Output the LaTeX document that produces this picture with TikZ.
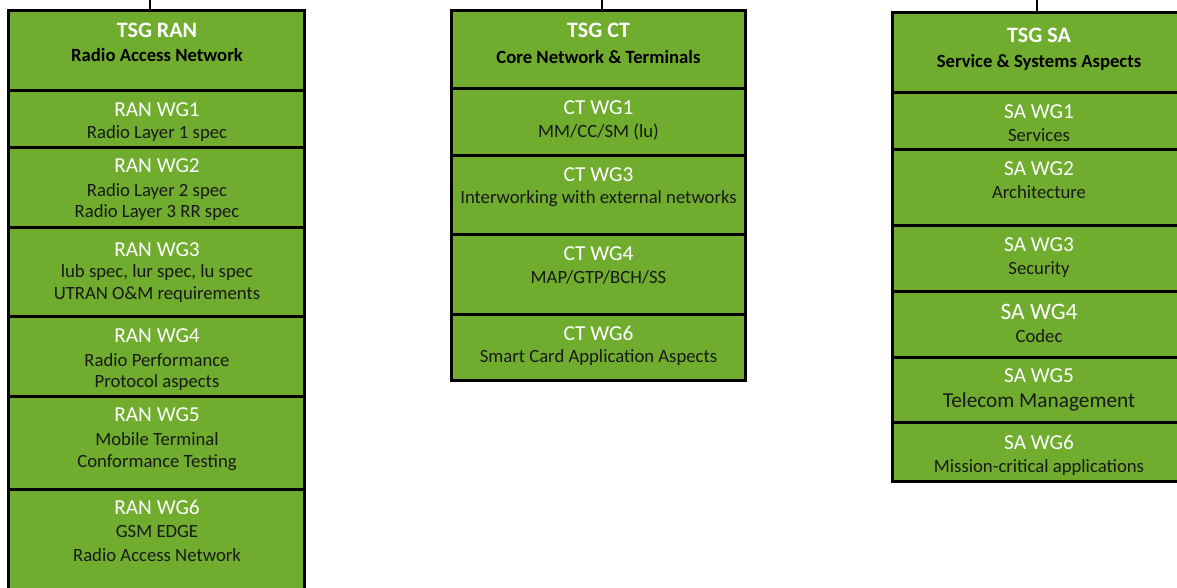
\documentclass[tikz,border=0pt]{standalone}
\usepackage{fontspec}
\setmainfont{Carlito}
\definecolor{cellgreen}{RGB}{112,173,47}
\begin{document}
\begin{tikzpicture}[x=1pt,y=-1pt,
  cell/.style={draw=black,fill=cellgreen,line width=3pt,rectangle,inner sep=0pt},
  txt/.style={anchor=base,inner sep=0pt,yshift=-1pt},
  hdr/.style={txt,text=white,font=\fontsize{22}{26}\selectfont\bfseries},
  sub/.style={txt,text=black,font=\fontsize{18.7}{22}\selectfont\bfseries},
  wgt/.style={txt,text=white,font=\fontsize{21.3}{25}\selectfont},
  body/.style={txt,text=black!90,font=\fontsize{18.7}{22}\selectfont},
  link/.style={draw=black,line width=2pt}]
\useasboundingbox (0,0) rectangle (1177,587);
% ---------------- RAN column
\begin{scope}
\clip (0,0) rectangle (1177,587);
\node[cell,minimum width=296.2pt,minimum height=79.5pt] (ranH) at (156.4,50.25) {};
\node[cell,minimum width=296.2pt,minimum height=57pt] (ran1) at (156.4,118.5) {};
\node[cell,minimum width=296.2pt,minimum height=80pt] (ran2) at (156.4,187) {};
\node[cell,minimum width=296.2pt,minimum height=89pt] (ran3) at (156.4,271.5) {};
\node[cell,minimum width=296.2pt,minimum height=80pt] (ran4) at (156.4,356) {};
\node[cell,minimum width=296.2pt,minimum height=93pt] (ran5) at (156.4,442.5) {};
\node[cell,minimum width=296.2pt,minimum height=120pt] (ran6) at (156.4,549.5) {};
\end{scope}
\node[hdr] (ranHa) at (157,36.7) {TSG RAN};
\node[sub] (ranHb) at (157,60.7) {Radio Access Network};
\node[wgt] (ran1a) at (157,115) {RAN WG1};
\node[body] (ran1b) at (157,137.7) {Radio Layer 1 spec};
\node[wgt] (ran2a) at (157,171.7) {RAN WG2};
\node[body] (ran2b) at (157,195) {Radio Layer 2 spec};
\node[body] (ran2c) at (157,216.7) {Radio Layer 3 RR spec};
\node[wgt] (ran3a) at (157,255) {RAN WG3};
\node[body] (ran3b) at (157,276) {lub spec, lur spec, lu spec};
\node[body] (ran3c) at (157,298) {UTRAN O\&M requirements};
\node[wgt] (ran4a) at (157,341) {RAN WG4};
\node[body] (ran4b) at (157,365) {Radio Performance};
\node[body] (ran4c) at (157,386.7) {Protocol aspects};
\node[wgt] (ran5a) at (157,420.7) {RAN WG5};
\node[body] (ran5b) at (157,444) {Mobile Terminal};
\node[body] (ran5c) at (157,466.7) {Conformance Testing};
\node[wgt] (ran6a) at (157,513.3) {RAN WG6};
\node[body] (ran6b) at (157,536.7) {GSM EDGE};
\node[body] (ran6c) at (157,560) {Radio Access Network};
% ---------------- CT column
\node[cell,minimum width=294pt,minimum height=78.5pt] (ctH) at (598.3,49.55) {};
\node[cell,minimum width=294pt,minimum height=66.7pt] (ct1) at (598.3,122.15) {};
\node[cell,minimum width=294pt,minimum height=79pt] (ct3) at (598.3,195) {};
\node[cell,minimum width=294pt,minimum height=80pt] (ct4) at (598.3,274.5) {};
\node[cell,minimum width=294pt,minimum height=65.8pt] (ct6) at (598.3,347.4) {};
\node[hdr] (ctHa) at (598.5,36.7) {TSG CT};
\node[sub] (ctHb) at (598.5,62.7) {Core Network \& Terminals};
\node[wgt] (ct1a) at (598.5,113.3) {CT WG1};
\node[body] (ct1b) at (598.5,136.7) {MM/CC/SM (lu)};
\node[wgt] (ct3a) at (598.5,180) {CT WG3};
\node[body] (ct3b) at (598.5,202.7) {Interworking with external networks};
\node[wgt] (ct4a) at (598.5,259.3) {CT WG4};
\node[body] (ct4b) at (598.5,282.7) {MAP/GTP/BCH/SS};
\node[wgt] (ct6a) at (598.5,339.3) {CT WG6};
\node[body] (ct6b) at (598.5,361.7) {Smart Card Application Aspects};
% ---------------- SA column
\begin{scope}
\clip (0,0) rectangle (1177,587);
\node[cell,minimum width=296pt,minimum height=79.5pt] (saH) at (1040,52.55) {};
\node[cell,minimum width=296pt,minimum height=56.7pt] (sa1) at (1040,120.65) {};
\node[cell,minimum width=296pt,minimum height=76.7pt] (sa2) at (1040,187.35) {};
\node[cell,minimum width=296pt,minimum height=65.6pt] (sa3) at (1040,258.5) {};
\node[cell,minimum width=296pt,minimum height=66pt] (sa4) at (1040,324.3) {};
\node[cell,minimum width=296pt,minimum height=65.4pt] (sa5) at (1040,390) {};
\node[cell,minimum width=296pt,minimum height=58.6pt] (sa6) at (1040,452) {};
\end{scope}
\node[hdr] (saHa) at (1039,41) {TSG SA};
\node[sub] (saHb) at (1039,66.7) {Service \& Systems Aspects};
\node[wgt] (sa1a) at (1039,117.3) {SA WG1};
\node[body] (sa1b) at (1039,140) {Services};
\node[wgt] (sa2a) at (1039,174) {SA WG2};
\node[body] (sa2b) at (1039,197.3) {Architecture};
\node[wgt] (sa3a) at (1039,250) {SA WG3};
\node[body] (sa3b) at (1039,273.3) {Security};
\node[wgt,font=\fontsize{23.5}{27}\selectfont] (sa4a) at (1039,318.3) {SA WG4};
\node[body] (sa4b) at (1039,341.7) {Codec};
\node[wgt] (sa5a) at (1039,381.7) {SA WG5};
\node[body,font=\fontsize{21.3}{25}\selectfont] (sa5b) at (1039,406.7) {Telecom Management};
\node[wgt] (sa6a) at (1039,448.3) {SA WG6};
\node[body] (sa6b) at (1039,471.7) {Mission-critical applications};
% ---------------- connectors from above
\coordinate (ranTop) at (150,0);
\coordinate (ctTop) at (602,0);
\coordinate (saTop) at (1037,0);
\draw[link] (ranTop) -- (ranTop |- ranH.north);
\draw[link] (ctTop) -- (ctTop |- ctH.north);
\draw[link] (saTop) -- (saTop |- saH.north);
\end{tikzpicture}
\end{document}
